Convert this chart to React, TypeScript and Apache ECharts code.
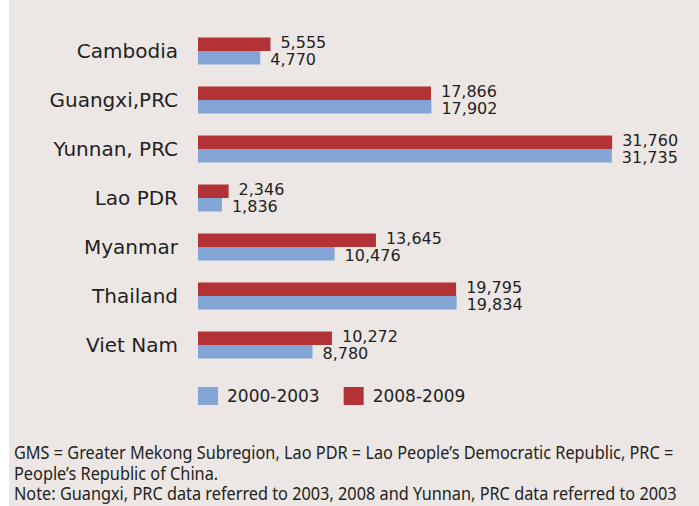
import React, { useEffect, useRef } from "react";
import * as echarts from "echarts";

const categories = ["Cambodia", "Guangxi,PRC", "Yunnan, PRC", "Lao PDR", "Myanmar", "Thailand", "Viet Nam"];
const values2008 = [5555, 17866, 31760, 2346, 13645, 19795, 10272];
const values2000 = [4770, 17902, 31735, 1836, 10476, 19834, 8780];
const seriesNames = ["2000-2003", "2008-2009"];
const footerLines = [
  "GMS = Greater Mekong Subregion, Lao PDR = Lao People\u2019s Democratic Republic, PRC =",
  "People\u2019s Republic of China.",
  "Note: Guangxi, PRC data referred to 2003, 2008 and Yunnan, PRC data referred to 2003",
];

const RED = "#b33235";
const BLUE = "#83a5d6";
const TEXT = "#231f20";
const FONT = "DejaVu Sans";

export default function App() {
  const ref = useRef<HTMLDivElement>(null);
  useEffect(() => {
    if (!ref.current) return;
    const chart = echarts.init(ref.current, undefined, { renderer: "svg" });
    const fmt = (p: any) => Number(p.value).toLocaleString("en-US");
    const labelCfg = (dy: number) => ({
      show: true,
      position: "right",
      distance: 10,
      offset: [0, dy],
      formatter: fmt,
      color: TEXT,
      fontFamily: FONT,
      fontSize: 16,
      lineHeight: 16,
    });
    chart.setOption({
      animation: false,
      backgroundColor: "#ffffff",
      graphic: [
        {
          type: "rect",
          z: -10,
          shape: { x: 9, y: 0, width: 690, height: 506 },
          style: { fill: "#ece7e5" },
        },
        ...footerLines.map((t, i) => ({
          type: "text",
          x: 14,
          y: 452 + i * 20.7,
          scaleX: 0.905,
          style: {
            text: t,
            fill: TEXT,
            font: `18px "Noto Sans"`,
            verticalAlign: "middle",
          },
        })),
      ],
      legend: {
        data: seriesNames,
        left: 198,
        top: 387,
        padding: 0,
        itemWidth: 20,
        itemHeight: 18,
        itemGap: 24,
        icon: "rect",
        textStyle: { color: TEXT, fontFamily: FONT, fontSize: 17, padding: [0, 0, 0, 4] },
      },
      grid: { left: 198, top: 26.5, right: 0, height: 343, containLabel: false },
      xAxis: {
        type: "value",
        min: 0,
        max: 38420,
        show: false,
      },
      yAxis: {
        type: "category",
        data: categories,
        inverse: true,
        axisLine: { show: false },
        axisTick: { show: false },
        axisLabel: { color: TEXT, fontFamily: FONT, fontSize: 20, margin: 20 },
      },
      series: [
        {
          name: "2008-2009",
          type: "bar",
          data: values2008,
          itemStyle: { color: RED },
          barCategoryGap: "45%",
          barGap: "0%",
          label: labelCfg(-2),
        },
        {
          name: "2000-2003",
          type: "bar",
          data: values2000,
          itemStyle: { color: BLUE },
          barCategoryGap: "45%",
          barGap: "0%",
          label: labelCfg(2),
        },
      ],
    });
    return () => chart.dispose();
  }, []);
  return (
    <div
      ref={ref}
      style={{ position: "absolute", left: 0, top: 0, width: 699, height: 506 }}
    />
  );
}
